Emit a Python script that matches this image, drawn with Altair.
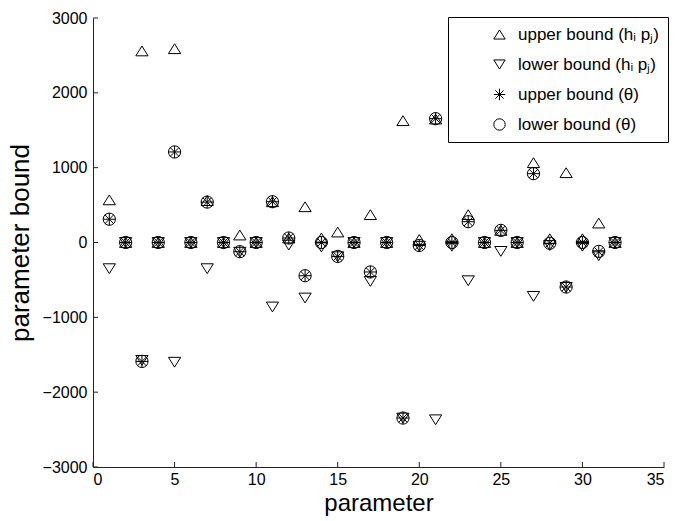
import altair as alt
import pandas as pd

# Parameter index and the four bound estimates for each parameter
params = list(range(1, 33))
upper_hp = [570, 0, 2560, 0, 2590, 0, 560, 0, 100, 0, 545, 60, 478, 60, 140, 0,
            372, 0, 1628, 40, 1650, 50, 372, 0, 162, 0, 1067, 50, 933, 50, 260, 0]
lower_hp = [-350, 0, -1575, 0, -1600, 0, -350, 0, -130, 0, -862, -35, -742, -60, -190, 0,
            -520, 0, -2346, -50, -2369, -50, -511, 0, -119, 0, -720, -40, -600, -50, -176, 0]
upper_theta = [311, 0, -1589, 0, 1210, 0, 540, 0, -123, 0, 545, 60, -444, 0, -186, 0,
               -394, 0, -2346, -40, 1655, 0, 278, 0, 162, 0, 920, -10, -595, 0, -125, 0]
lower_theta = [311, 0, -1589, 0, 1210, 0, 540, 0, -123, 0, 545, 60, -444, 0, -186, 0,
               -394, 0, -2346, -40, 1655, 0, 278, 0, 162, 0, 920, -10, -595, 0, -119, 0]

series_names = [
    "upper bound (hᵢ pⱼ)",
    "lower bound (hᵢ pⱼ)",
    "upper bound (θ)",
    "lower bound (θ)",
]

x_ticks = [0, 5, 10, 15, 20, 25, 30, 35]
y_ticks = [-3000, -2000, -1000, 0, 1000, 2000, 3000]

rows = []
for name, vals in zip(series_names, [upper_hp, lower_hp, upper_theta, lower_theta]):
    for p, v in zip(params, vals):
        rows.append({"parameter": p, "bound": v, "series": name})
df = pd.DataFrame(rows)

# Marker outlines: open triangles, an eight-arm asterisk and an open circle
tri_up = "M-1,0.8L1,0.8L0,-0.8Z"
tri_down = "M-1,-0.8L1,-0.8L0,0.8Z"
asterisk = "M-1,0L1,0M0,-1L0,1M-0.72,-0.72L0.72,0.72M-0.72,0.72L0.72,-0.72"
circle = "circle"

W, H = 571, 449
FONT = "Liberation Sans"

x_scale = alt.Scale(domain=[0, 35], nice=False, zero=False)
y_scale = alt.Scale(domain=[-3000, 3000], nice=False)

points = alt.Chart(df).mark_point(
    filled=False, color="black", strokeWidth=1, size=150, opacity=1
).encode(
    x=alt.X("parameter:Q", scale=x_scale,
            axis=alt.Axis(values=x_ticks, format="d", title="parameter",
                          labelPadding=4, titlePadding=4, titleFontSize=24)),
    y=alt.Y("bound:Q", scale=y_scale,
            axis=alt.Axis(values=y_ticks, format="d", title="parameter bound",
                          labelPadding=6, titlePadding=9, titleFontSize=26)),
    shape=alt.Shape(
        "series:N",
        scale=alt.Scale(domain=series_names,
                        range=[tri_up, tri_down, asterisk, circle]),
        sort=series_names,
        legend=alt.Legend(
            title=None, orient="none", legendX=355, legendY=-1,
            padding=9, strokeColor="black", fillColor="white",
            labelFont=FONT, labelFontSize=17, labelColor="black",
            symbolOffset=34, labelOffset=10, rowPadding=12,
            symbolSize=130, symbolStrokeColor="black", symbolStrokeWidth=1,
            symbolFillColor="transparent",
        ),
    ),
)

# Inward tick marks along the left and bottom axes
y_tick_df = pd.DataFrame({"bound": y_ticks})
x_tick_df = pd.DataFrame({"parameter": x_ticks})

y_tick_marks = alt.Chart(y_tick_df).mark_rule(color="#222", strokeWidth=1).encode(
    y=alt.Y("bound:Q", scale=y_scale),
    x=alt.value(0),
    x2=alt.value(5),
)
x_tick_marks = alt.Chart(x_tick_df).mark_rule(color="#222", strokeWidth=1).encode(
    x=alt.X("parameter:Q", scale=x_scale),
    y=alt.value(H),
    y2=alt.value(H - 5),
)

chart = alt.layer(points, y_tick_marks, x_tick_marks).properties(
    width=W, height=H,
    autosize=alt.AutoSizeParams(type="none"),
    padding={"left": 93, "top": 18, "right": 23, "bottom": 54},
).configure_view(
    stroke=None
).configure_axis(
    grid=False, ticks=False, domain=True, domainColor="#222", domainWidth=1,
    labelFont=FONT, labelFontSize=16, labelColor="black",
    titleFont=FONT, titleFontWeight="normal", titleColor="black",
)

chart.save("out.html", embed_options={"renderer": "svg", "actions": False})
